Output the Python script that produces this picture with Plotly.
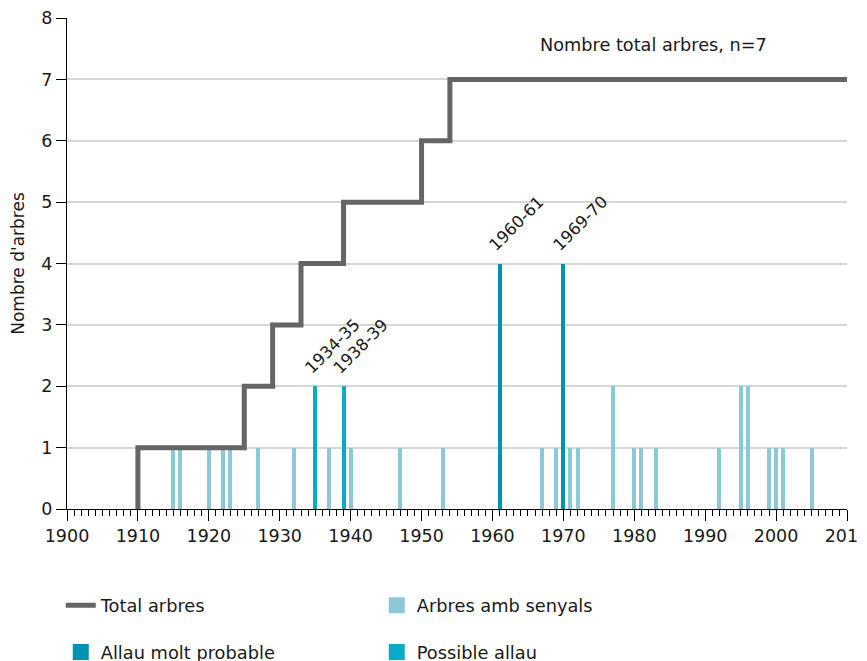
import plotly.graph_objects as go

# ---- data ----
years_senyals = [1915, 1916, 1920, 1922, 1923, 1927, 1932, 1937, 1940, 1947, 1953,
                 1967, 1969, 1971, 1972, 1977, 1980, 1981, 1983, 1992, 1995, 1996,
                 1999, 2000, 2001, 2005]
count_senyals = [1, 1, 1, 1, 1, 1, 1, 1, 1, 1, 1,
                 1, 1, 1, 1, 2, 1, 1, 1, 1, 2, 2,
                 1, 1, 1, 1]
years_possible = [1935, 1939]
count_possible = [2, 2]
labels_possible = ["1934-35", "1938-39"]
years_molt = [1961, 1970]
count_molt = [4, 4]
labels_molt = ["1960-61", "1969-70"]
step_years = [1910, 1910, 1925, 1929, 1933, 1939, 1950, 1954, 2010]
step_total = [0, 1, 2, 3, 4, 5, 6, 7, 7]
x_ticks = list(range(1900, 2011, 10))
y_ticks = list(range(0, 9))

C_LINE = "#656565"
C_SENY = "#8BC8D8"
C_MOLT = "#0092B4"
C_POSS = "#0AABC7"
C_TEXT = "#1a1a1a"
FONT = "DejaVu Sans"
BW = 0.56

fig = go.Figure()
fig.add_trace(go.Bar(x=years_senyals, y=count_senyals, width=BW, marker_color=C_SENY,
                     marker_line_width=0, showlegend=False, legendgroup="s"))
fig.add_trace(go.Bar(x=years_possible, y=count_possible, width=BW, marker_color=C_POSS,
                     marker_line_width=0, showlegend=False, legendgroup="p"))
fig.add_trace(go.Bar(x=years_molt, y=count_molt, width=BW, marker_color=C_MOLT,
                     marker_line_width=0, showlegend=False, legendgroup="m"))
fig.add_trace(go.Scatter(x=step_years, y=step_total, mode="lines", line_shape="hv",
                         line=dict(color=C_LINE, width=5), name="Total arbres",
                         legend="legend"))

# legend entries (larger square swatches)
def swatch(name, color, group, leg):
    fig.add_trace(go.Scatter(x=[None], y=[None], mode="markers", name=name,
                             marker=dict(symbol="square", size=20, color=color),
                             legendgroup=group, legend=leg))

swatch("Arbres amb senyals", C_SENY, "s", "legend")
swatch("Allau molt probable", C_MOLT, "m", "legend2")
swatch("Possible allau", C_POSS, "p", "legend2")

annots = []
for yr, c, lab in zip(years_possible + years_molt, count_possible + count_molt,
                      labels_possible + labels_molt):
    annots.append(dict(x=yr, y=c, text=lab, showarrow=False, textangle=-45,
                       xanchor="center", yanchor="middle", xshift=17, yshift=40,
                       font=dict(family=FONT, size=16.5, color=C_TEXT)))
annots.append(dict(x=1966.4, y=7.56, text="Nombre total arbres, n=7", showarrow=False,
                   xanchor="left", yanchor="middle",
                   font=dict(family=FONT, size=17.7, color=C_TEXT)))

leg_common = dict(orientation="h", xanchor="left", yanchor="middle",
                  entrywidthmode="pixels", entrywidth=271,
                  font=dict(family=FONT, size=17.8, color=C_TEXT),
                  bgcolor="rgba(0,0,0,0)", itemclick=False, itemdoubleclick=False)

fig.update_layout(
    width=867, height=661,
    margin=dict(l=59, r=28, t=10, b=160, autoexpand=False),
    paper_bgcolor="white", plot_bgcolor="white",
    barmode="overlay", bargap=0,
    font=dict(family=FONT, size=17, color=C_TEXT),
    annotations=annots,
    legend=dict(x=-0.008, y=-0.197, **leg_common),
    legend2=dict(x=-0.008, y=-0.292, **leg_common),
    xaxis=dict(range=[1900, 2010], tickvals=x_ticks, ticks="outside", ticklen=11,
               tickcolor="black", tickwidth=1, showline=True, linecolor="black",
               linewidth=1, showgrid=False, zeroline=False,
               ticklabeloverflow="allow",
               minor=dict(dtick=1, tick0=1900, ticks="outside", ticklen=6,
                          tickcolor="black", tickwidth=1, showgrid=False),
               tickfont=dict(family=FONT, size=17.5, color=C_TEXT)),
    yaxis=dict(range=[0, 8], tickvals=y_ticks, ticks="outside", ticklen=10,
               tickcolor="black", tickwidth=1, showline=True, linecolor="black",
               linewidth=1, showgrid=True, gridcolor="#d6d6d6", gridwidth=1.5,
               zeroline=False, ticklabeloverflow="allow",
               title=dict(text="Nombre d'arbres", standoff=13,
                          font=dict(family=FONT, size=17, color=C_TEXT)),
               tickfont=dict(family=FONT, size=17.5, color=C_TEXT)),
)

fig.write_html("out.html")
